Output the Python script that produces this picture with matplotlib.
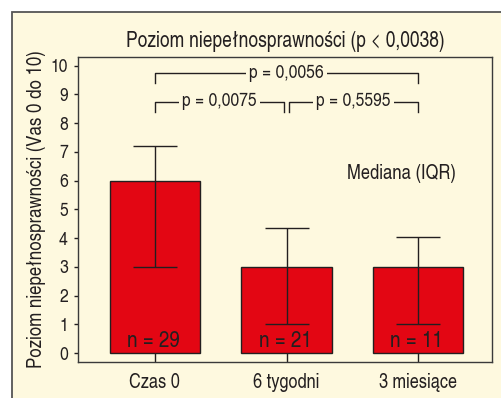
import matplotlib
matplotlib.use("Agg")
import matplotlib.pyplot as plt
from matplotlib.patches import Rectangle

plt.rcParams['font.family'] = ['TeX Gyre Heros Cn', 'DejaVu Sans']

# data
groups = ["Czas 0", "6 tygodni", "3 miesiące"]
median = [6, 3, 3]
q1 = [3, 1, 1]
q3 = [7.2, 4.35, 4.05]
n_counts = [29, 21, 11]
comparisons = [(0, 2, "p = 0,0056"), (0, 1, "p = 0,0075"), (1, 2, "p = 0,5595")]

cream = '#fef9df'
red = '#e30613'
dark = '#231f20'

fig = plt.figure(figsize=(5.01, 3.98), dpi=100)
fig.patch.set_facecolor('white')
fig.add_artist(Rectangle((12 / 501, -0.5), 2, (386 / 398) + 0.5, transform=fig.transFigure,
                         facecolor=cream, edgecolor='#555555', lw=1.3, zorder=-5))

ax = fig.add_axes([0.155, 0.0905, 0.828, 0.767])
ax.set_facecolor(cream)

x = list(range(len(groups)))
lower = [m - a for m, a in zip(median, q1)]
upper = [b - m for m, b in zip(median, q3)]
ax.bar(x, median, width=0.685, color=red, edgecolor=dark, linewidth=1.0, zorder=2)
ax.errorbar(x, median, yerr=[lower, upper], fmt='none', ecolor=dark, elinewidth=1.0,
            capsize=15.5, capthick=1.0, zorder=3)

for xi, n in zip(x, n_counts):
    ax.text(xi - 0.01, 0.4, f"n = {n}", ha='center', va='center', fontsize=16.5, color=dark, zorder=4)

# significance brackets
levels = {(0, 2): 9.73, (0, 1): 8.75, (1, 2): 8.75}
for a, b, label in comparisons:
    y = levels[(a, b)]
    xa, xb = a, b
    if (a, b) == (0, 1):
        xb = b - 0.02
    if (a, b) == (1, 2):
        xa = a + 0.02
    ax.plot([xa, xa, xb, xb], [y - 0.35, y, y, y - 0.35], color=dark, lw=1.0, zorder=3)
    ax.text((xa + xb) / 2, y, label, ha='center', va='center', fontsize=13.8, color=dark,
            bbox=dict(facecolor=cream, edgecolor='none', pad=2.5), zorder=4)

ax.text(1.875, 6.26, "Mediana (IQR)", ha='center', va='center', fontsize=14.5, color=dark)

ax.set_xlim(-0.587, 2.565)
ax.set_ylim(-0.31, 10.31)
ax.set_yticks(range(0, 11))
ax.set_xticks(x)
ax.set_xticklabels(groups)
ax.tick_params(axis='y', direction='out', length=3, width=1, labelsize=13.8, pad=4, colors=dark)
ax.tick_params(axis='x', direction='in', length=6.5, width=1, labelsize=14.3, pad=8, colors=dark)
for s in ax.spines.values():
    s.set_color('#3a3a3a')
    s.set_linewidth(1.0)

ax.set_ylabel("Poziom niepełnosprawności (Vas 0 do 10)", fontsize=14.8, color=dark, labelpad=3.5)
ax.set_title("Poziom niepełnosprawności (p < 0,0038)", fontsize=15.3, color=dark, pad=7)

fig.savefig("out.png", dpi=100, facecolor=fig.get_facecolor())
